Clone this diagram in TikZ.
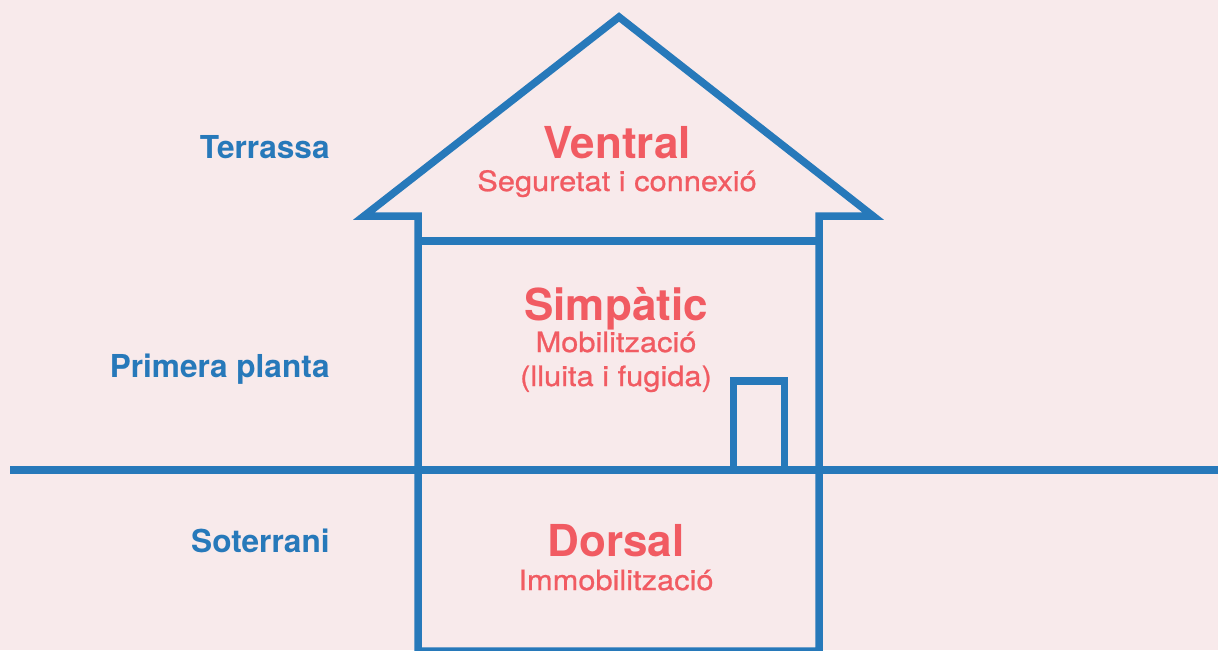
\documentclass[tikz,border=0pt]{standalone}
\usepackage{fontspec}
\setmainfont{TeX Gyre Heros}
\newfontfamily\subfont[FakeStretch=1.1, FakeBold=0.8]{TeX Gyre Heros}
\usepackage{tikz}
\usetikzlibrary{positioning}
\definecolor{houseblue}{HTML}{2779BA}
\definecolor{housered}{HTML}{F15B62}
\definecolor{housebg}{HTML}{F8EAEB}

\begin{document}
\begin{tikzpicture}[x=0.5pt, y=-0.5pt]
  \tikzset{FloorStyle/.style = {text=houseblue, font=\bfseries\fontsize{15.8}{19}\selectfont, inner sep=0pt, anchor=base east}}
  \tikzset{TitleStyle/.style = {text=housered, font=\bfseries\fontsize{22}{26}\selectfont, inner sep=0pt, anchor=base}}
  \tikzset{SubStyle/.style   = {text=housered, font=\subfont\fontsize{14}{17}\selectfont, inner sep=0pt}}
  \tikzset{WallStyle/.style  = {draw=houseblue, line width=3.75pt, line join=miter}}

  \fill[housebg] (0,0) rectangle (1218,650);
  \useasboundingbox (0,0) rectangle (1218,650);

  % house outline, ceiling, ground and door
  \draw[WallStyle] (418,651) -- (418,216) -- (364,216) -- (619,17) -- (873,216) -- (819,216) -- (819,651) -- cycle;
  \draw[WallStyle] (418,241) -- (819,241);
  \draw[WallStyle] (10,470) -- (1218,470);
  \draw[WallStyle] (733.5,470) -- (733.5,381) -- (784.5,381) -- (784.5,470);

  \node(terrassa)[FloorStyle] at (330,158){Terrassa};
  \node(primera)[FloorStyle] at (330,377){Primera planta};
  \node(soterrani)[FloorStyle] at (330,552){Soterrani};

  \node(ventral)[TitleStyle] at (617,158){Ventral};
  \node(seguretat)[SubStyle, below=16.5pt of ventral.base, anchor=base]{Seguretat i connexió};

  \node(simpatic)[TitleStyle] at (616,320){Simpàtic};
  \node(mobilitzacio)[SubStyle, below=16pt of simpatic.base, anchor=base]{Mobilització};
  \node(lluita)[SubStyle, below=17pt of mobilitzacio.base, anchor=base]{(lluita i fugida)};

  \node(dorsal)[TitleStyle] at (616,556){Dorsal};
  \node(immobilitzacio)[SubStyle, below=17pt of dorsal.base, anchor=base]{Immobilització};

\end{tikzpicture}
\end{document}
